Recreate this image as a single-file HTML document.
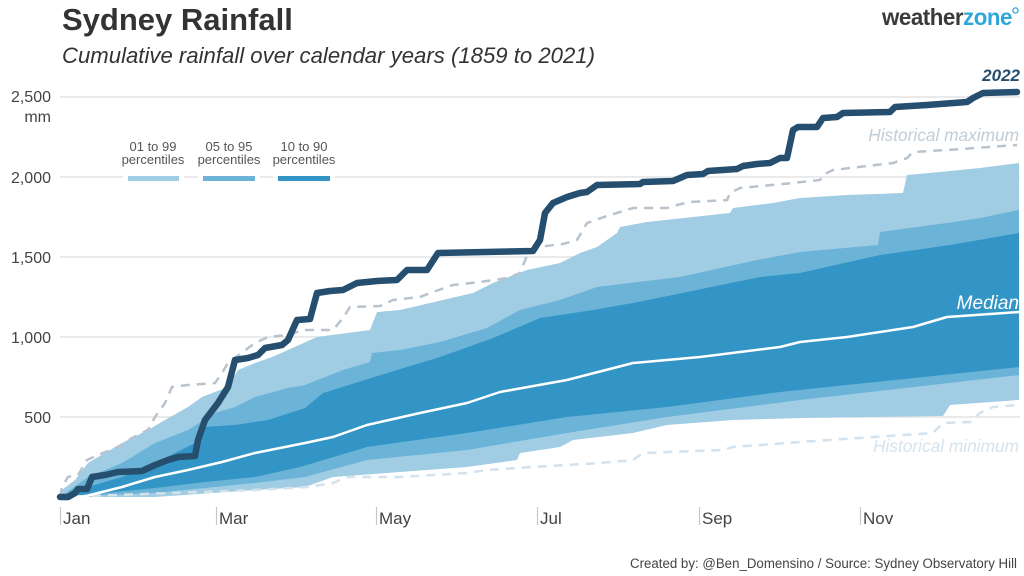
<!DOCTYPE html>
<html>
<head>
<meta charset="utf-8">
<style>
  html,body{margin:0;padding:0;background:#fff;}
  svg{display:block;}
  text{font-family:"Liberation Sans",Arial,sans-serif;}
</style>
</head>
<body>
<svg width="1024" height="576" viewBox="0 0 1024 576" xmlns="http://www.w3.org/2000/svg">
  <rect x="0" y="0" width="1024" height="576" fill="#fff"/>

  <!-- Title -->
  <text x="62" y="30" font-size="31" font-weight="bold" fill="#333">Sydney Rainfall</text>
  <text x="62" y="63" font-size="22" font-style="italic" fill="#333" textLength="533" lengthAdjust="spacingAndGlyphs">Cumulative rainfall over calendar years (1859 to 2021)</text>

  <!-- Logo -->
  <text x="882" y="25" font-size="23" font-weight="bold" letter-spacing="-0.5" fill="#3a3a3a" textLength="130" lengthAdjust="spacingAndGlyphs">weather<tspan fill="#2ea6da">zone</tspan></text>
  <circle cx="1015.5" cy="10.5" r="2.6" fill="none" stroke="#2ea6da" stroke-width="1.3"/>

  <!-- Gridlines -->
  <g stroke="#e3e3e3" stroke-width="1.5">
    <line x1="60" y1="97" x2="1020" y2="97"/>
    <line x1="60" y1="177" x2="1020" y2="177"/>
    <line x1="60" y1="257" x2="1020" y2="257"/>
    <line x1="60" y1="337" x2="1020" y2="337"/>
    <line x1="60" y1="417" x2="1020" y2="417"/>
  </g>

  <!-- Y axis labels -->
  <g font-size="16" fill="#444" text-anchor="end">
    <text x="51" y="102">2,500</text>
    <text x="51" y="122">mm</text>
    <text x="51" y="183">2,000</text>
    <text x="51" y="263">1,500</text>
    <text x="51" y="343">1,000</text>
    <text x="51" y="423">500</text>
  </g>

  <!-- X axis ticks & labels -->
  <g stroke="#c8c8c8" stroke-width="1.2">
    <line x1="60.5" y1="507" x2="60.5" y2="525"/>
    <line x1="216.5" y1="507" x2="216.5" y2="525"/>
    <line x1="376.5" y1="507" x2="376.5" y2="525"/>
    <line x1="537.5" y1="507" x2="537.5" y2="525"/>
    <line x1="699.5" y1="507" x2="699.5" y2="525"/>
    <line x1="860.5" y1="507" x2="860.5" y2="525"/>
  </g>
  <g font-size="17" fill="#444">
    <text x="63" y="524">Jan</text>
    <text x="219" y="524">Mar</text>
    <text x="379" y="524">May</text>
    <text x="540" y="524">Jul</text>
    <text x="702" y="524">Sep</text>
    <text x="863" y="524">Nov</text>
  </g>

  <!-- Legend -->
  <g font-size="13" fill="#555" text-anchor="middle">
    <text x="153" y="151">01 to 99</text>
    <text x="153" y="164">percentiles</text>
    <text x="229" y="151">05 to 95</text>
    <text x="229" y="164">percentiles</text>
    <text x="304" y="151">10 to 90</text>
    <text x="304" y="164">percentiles</text>
  </g>
  <rect x="123" y="173" width="61" height="11" fill="#fff"/>
  <rect x="198" y="173" width="62" height="11" fill="#fff"/>
  <rect x="273" y="173" width="62" height="11" fill="#fff"/>
  <rect x="128" y="176" width="51" height="5" fill="#a0cce4"/>
  <rect x="203" y="176" width="52" height="5" fill="#6bb4d8"/>
  <rect x="278" y="176" width="52" height="5" fill="#3395c5"/>

  <!-- 1 to 99 band -->
  <polygon fill="#a0cce4" points="60,497 62,490 75,480 88,463 105,453 122,443 148,430 165,420 188,407 202,397 228,387 238,370 255,363 272,357 288,350 317,337 370,330 377,312 400,310 430,303 473,293 493,283 527,270 560,263 580,253 597,247 617,233 620,227 647,222 730,213 733,208 773,203 800,198 847,195 903,193 907,175 940,172 980,168 1019,163
    1019,400 950,405 943,416 800,418 733,420 667,425 633,433 573,440 560,447 520,453 517,460 467,467 400,472 333,477 305,487 255,490 155,497 60,497"/>
  <!-- 5 to 95 band -->
  <polygon fill="#6bb4d8" points="60,497 88,477 122,463 155,443 188,430 215,413 235,407 255,397 288,388 305,385 343,370 370,362 372,353 400,350 440,342 487,328 520,310 560,300 597,287 680,277 757,260 800,252 878,245 880,232 947,223 980,218 1019,210
    1019,375 800,400 667,417 567,433 467,450 367,460 305,477 255,483 155,493 60,497"/>
  <!-- 10 to 90 band -->
  <polygon fill="#3395c5" points="60,497 88,487 122,477 155,463 195,443 202,427 235,425 268,420 305,408 323,393 397,370 440,357 493,338 540,318 593,310 633,303 687,292 760,277 800,273 880,255 950,245 1019,233
    1019,367 780,392 667,407 567,417 467,433 367,447 300,467 255,477 205,482 155,488 105,493 60,497"/>

  <!-- Historical minimum -->
  <polyline fill="none" stroke="#d3e2ec" stroke-width="2.5" stroke-dasharray="9,7" points="60,497 255,490 307,487 333,483 347,477 400,477 467,473 487,470 533,467 600,463 633,460 643,453 723,450 733,447 800,442 933,433 943,423 970,422 980,413 993,407 1017,405"/>
  <!-- Historical maximum -->
  <polyline fill="none" stroke="#b9c3cd" stroke-width="2.5" stroke-dasharray="9,7" points="60,497 62,487 68,477 78,475 87,460 98,455 118,447 132,438 148,430 155,417 165,403 172,387 188,385 215,383 222,373 228,363 255,343 268,337 288,335 303,330 333,330 343,318 350,307 380,306 393,300 420,297 433,292 453,285 480,282 507,278 520,273 528,253 537,247 563,244 577,240 587,223 607,216 620,212 633,208 667,208 677,205 690,202 727,200 730,193 740,188 793,183 820,180 823,175 833,170 893,163 907,158 913,152 947,150 1017,145"/>

  <!-- Median -->
  <polyline fill="none" stroke="#fff" stroke-width="2.5" stroke-linejoin="round" points="60,497 82,497 122,487 155,477 188,470 222,462 255,453 305,443 333,437 367,425 420,413 467,403 500,392 567,380 633,363 700,357 780,347 800,342 847,337 913,327 947,317 1019,312"/>

  <!-- 2022 -->
  <polyline fill="none" stroke="#264e6f" stroke-width="6.5" stroke-linejoin="round" stroke-linecap="round" points="60,497 68,497 75,493 78,489 87,489 92,477 105,475 118,472 142,471 155,465 168,460 178,457 195,456 198,440 205,420 218,403 228,387 235,360 248,358 258,355 265,348 282,345 288,340 297,320 310,319 317,293 330,291 343,290 357,283 377,281 397,280 407,270 427,270 438,253 533,251 540,240 545,213 553,203 567,197 580,193 587,192 597,185 640,184 643,182 673,181 687,175 703,174 708,171 737,169 743,166 757,164 770,163 780,158 787,158 793,130 798,127 817,127 823,118 837,117 843,113 890,112 895,107 927,105 967,102 973,98 983,93 1017,92"/>

  <!-- Annotations -->
  <text x="1020" y="81" font-size="17" font-weight="bold" font-style="italic" fill="#264e6f" text-anchor="end">2022</text>
  <text x="1019" y="141" font-size="17.3" font-style="italic" fill="#c2ccd5" text-anchor="end">Historical maximum</text>
  <text x="1019" y="309" font-size="19" font-style="italic" fill="#fff" text-anchor="end">Median</text>
  <text x="1019" y="452" font-size="17.3" font-style="italic" fill="#d5e3ec" text-anchor="end">Historical minimum</text>

  <!-- Footer -->
  <text x="1017" y="568" font-size="13.5" fill="#444" text-anchor="end" textLength="387" lengthAdjust="spacingAndGlyphs">Created by: @Ben_Domensino / Source: Sydney Observatory Hill</text>
</svg>
</body>
</html>
